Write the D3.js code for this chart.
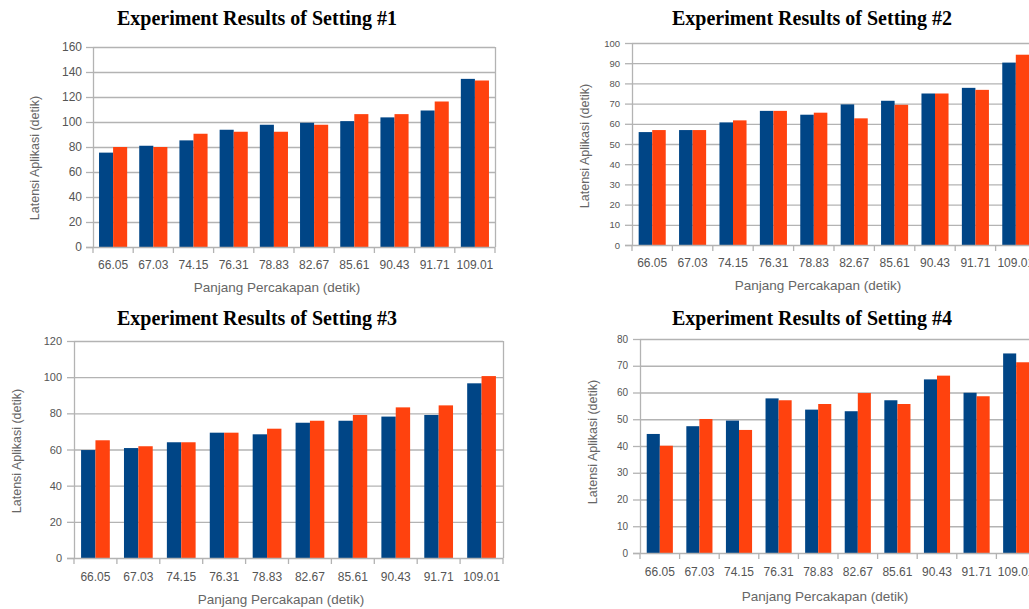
<!DOCTYPE html>
<html>
<head>
<meta charset="utf-8">
<script src="https://cdn.jsdelivr.net/npm/d3@7"></script>
<style>
  html, body { margin: 0; padding: 0; background: #fff; }
  svg { display: block; }
  .tick text { font-family: "Liberation Sans", Arial, sans-serif; fill: #555; }
</style>
</head>
<body>
<svg id="chart" width="1029" height="609"></svg>
<script>
// Conversation length categories (seconds)
const categories = ["66.05", "67.03", "74.15", "76.31", "78.83", "82.67", "85.61", "90.43", "91.71", "109.01"];

// Application latency (seconds), two series per setting
const setting1Blue   = [75.5, 81, 85.3, 93.8, 97.8, 99.4, 100.7, 103.7, 109.2, 134.5];
const setting1Orange = [80, 80, 90.6, 92.2, 92.2, 97.8, 106.3, 106.3, 116.4, 133.2];

const setting2Blue   = [55.9, 56.9, 60.7, 66.4, 64.5, 69.6, 71.4, 75, 77.8, 90.3];
const setting2Orange = [56.9, 56.9, 61.7, 66.4, 65.5, 62.7, 69.4, 75, 76.8, 94.2];

const setting3Blue   = [59.7, 60.8, 64, 69.3, 68.4, 74.8, 75.9, 78.2, 79.1, 96.6];
const setting3Orange = [65.1, 61.8, 64, 69.3, 71.5, 75.9, 79.1, 83.3, 84.4, 100.6];

const setting4Blue   = [44.5, 47.4, 49.5, 57.8, 53.6, 53, 57.1, 64.9, 59.9, 74.6];
const setting4Orange = [40.1, 50.1, 46, 57.1, 55.7, 59.8, 55.7, 66.3, 58.6, 71.3];

// Y-axis tick values per setting
const ticks1 = [0, 20, 40, 60, 80, 100, 120, 140, 160];
const ticks2 = [0, 10, 20, 30, 40, 50, 60, 70, 80, 90, 100];
const ticks3 = [0, 20, 40, 60, 80, 100, 120];
const ticks4 = [0, 10, 20, 30, 40, 50, 60, 70, 80];

const titles = ["Experiment Results of Setting #1", "Experiment Results of Setting #2",
                "Experiment Results of Setting #3", "Experiment Results of Setting #4"];
const xTitle = "Panjang Percakapan (detik)";
const yTitle = "Latensi Aplikasi (detik)";

const BLUE = "#004586", ORANGE = "#ff420e", GRID = "#b3b3b3";

const svg = d3.select("#chart");

function drawPanel(p) {
  const g = svg.append("g");
  const x = d3.scaleBand().domain(categories).range([p.left, p.right]).padding(0);
  const y = d3.scaleLinear().domain([0, d3.max(p.ticks)]).range([p.bottom, p.top]);

  // horizontal gridlines
  g.append("g").selectAll("line").data(p.ticks.slice(1)).join("line")
    .attr("x1", p.left).attr("x2", p.right)
    .attr("y1", d => y(d) + 0.5).attr("y2", d => y(d) + 0.5)
    .attr("stroke", GRID).attr("stroke-width", 1.3);

  // right frame edge
  g.append("line").attr("x1", p.right + 0.5).attr("x2", p.right + 0.5)
    .attr("y1", p.top).attr("y2", p.bottom)
    .attr("stroke", GRID).attr("stroke-width", 1.3);

  // bars
  const pairW = x.bandwidth() * p.pair;
  const barW = pairW / 2;
  const grp = g.append("g").selectAll("g").data(categories).join("g")
    .attr("transform", d => `translate(${x(d) + (x.bandwidth() - pairW) / 2},0)`);
  grp.append("rect")
    .attr("x", 0).attr("width", barW)
    .attr("y", (d, i) => y(p.blue[i])).attr("height", (d, i) => y(0) - y(p.blue[i]))
    .attr("fill", BLUE);
  grp.append("rect")
    .attr("x", barW).attr("width", barW)
    .attr("y", (d, i) => y(p.orange[i])).attr("height", (d, i) => y(0) - y(p.orange[i]))
    .attr("fill", ORANGE);

  // y axis
  const ya = g.append("g").attr("transform", `translate(${p.left},0)`)
    .call(d3.axisLeft(y).tickValues(p.ticks).tickSize(7).tickPadding(p.yPad).tickSizeOuter(0));
  ya.selectAll("text").style("font-size", p.yFont + "px");
  ya.selectAll("line, path").attr("stroke", GRID).attr("stroke-width", 1.3);

  // x axis with ticks at band boundaries
  const xa = g.append("g").attr("transform", `translate(0,${p.bottom})`);
  xa.append("line").attr("x1", p.left - 7).attr("x2", p.right)
    .attr("y1", 0.5).attr("y2", 0.5).attr("stroke", GRID).attr("stroke-width", 1.3);
  const bounds = categories.map(d => x(d)).concat([p.right]);
  xa.selectAll("line.t").data(bounds).join("line").attr("class", "t")
    .attr("x1", d => d).attr("x2", d => d).attr("y1", 0).attr("y2", 6)
    .attr("stroke", GRID).attr("stroke-width", 1.3);
  xa.selectAll("text").data(categories).join("text")
    .attr("x", d => x(d) + x.bandwidth() / 2).attr("y", p.xLabelDy)
    .attr("text-anchor", "middle")
    .style("font-family", "Liberation Sans, Arial, sans-serif")
    .style("font-size", "12px").attr("fill", "#555")
    .text(d => d);

  // axis titles
  g.append("text").attr("x", p.xTitleX).attr("y", p.xTitleY)
    .attr("text-anchor", "middle")
    .style("font-family", "Liberation Sans, Arial, sans-serif")
    .style("font-size", "13.5px").attr("fill", "#666")
    .text(xTitle);
  g.append("text")
    .attr("transform", `translate(${p.yTitleX},${p.yTitleY}) rotate(-90)`)
    .attr("text-anchor", "middle")
    .style("font-family", "Liberation Sans, Arial, sans-serif")
    .style("font-size", "12.5px").attr("fill", "#666")
    .text(yTitle);

  // panel title
  g.append("text").attr("x", p.titleX).attr("y", p.titleY)
    .attr("text-anchor", "middle")
    .style("font-family", "Liberation Serif, Times New Roman, serif")
    .style("font-weight", "bold").style("font-size", "20px").attr("fill", "#000")
    .text(p.title);
}

drawPanel({ title: titles[0], blue: setting1Blue, orange: setting1Orange, ticks: ticks1,
  left: 93, right: 495, top: 47, bottom: 247, pair: 0.7, yFont: 12, yPad: 4,
  xLabelDy: 22, xTitleX: 277, xTitleY: 292, yTitleX: 39, yTitleY: 158,
  titleX: 257, titleY: 25 });

drawPanel({ title: titles[1], blue: setting2Blue, orange: setting2Orange, ticks: ticks2,
  left: 632, right: 1036, top: 43, bottom: 245, pair: 0.67, yFont: 9.5, yPad: 5,
  xLabelDy: 22, xTitleX: 818, xTitleY: 290, yTitleX: 589, yTitleY: 146,
  titleX: 812, titleY: 25 });

drawPanel({ title: titles[2], blue: setting3Blue, orange: setting3Orange, ticks: ticks3,
  left: 74, right: 503, top: 341, bottom: 558, pair: 0.67, yFont: 11, yPad: 5,
  xLabelDy: 23, xTitleX: 281, xTitleY: 604, yTitleX: 21, yTitleY: 451,
  titleX: 257, titleY: 325 });

drawPanel({ title: titles[3], blue: setting4Blue, orange: setting4Orange, ticks: ticks4,
  left: 640, right: 1036, top: 339, bottom: 553, pair: 0.66, yFont: 10, yPad: 5,
  xLabelDy: 23, xTitleX: 825, xTitleY: 601, yTitleX: 597, yTitleY: 442,
  titleX: 812, titleY: 325 });
</script>
</body>
</html>
